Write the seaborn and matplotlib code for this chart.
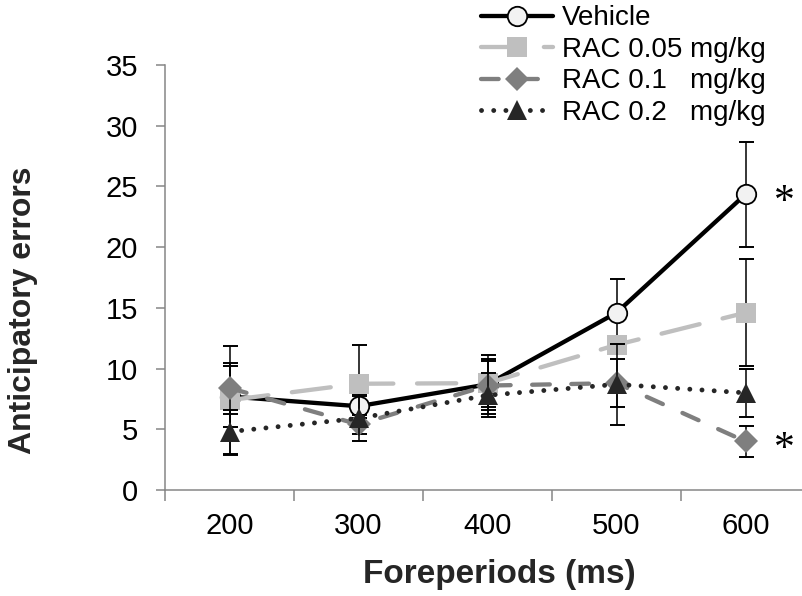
import numpy as np
import pandas as pd
import matplotlib
matplotlib.use("Agg")
import matplotlib.pyplot as plt
import seaborn as sns
from matplotlib.ticker import FixedLocator

# Foreperiod categories (ms) and group labels
foreperiods = ["200", "300", "400", "500", "600"]
group_names = ["Vehicle", "RAC 0.05 mg/kg", "RAC 0.1   mg/kg", "RAC 0.2   mg/kg"]

# Mean anticipatory errors and SEM for each group
vehicle_mean = [7.7, 6.9, 8.7, 14.6, 24.35]
vehicle_sem = [2.5, 1.0, 2.4, 2.75, 4.35]
rac005_mean = [7.4, 8.75, 8.8, 11.95, 14.6]
rac005_sem = [4.5, 3.2, 2.0, 0.5, 4.4]
rac01_mean = [8.4, 5.4, 8.6, 8.8, 4.0]
rac01_sem = [2.1, 0.8, 2.0, 1.95, 1.3]
rac02_mean = [4.8, 5.9, 7.8, 8.7, 8.0]
rac02_sem = [1.8, 1.85, 1.8, 3.35, 2.0]

# Groups flagged as significant at the longest foreperiod
flagged = [("Vehicle", vehicle_mean), ("RAC 0.1   mg/kg", rac01_mean)]

sns.set_theme(style="ticks")
plt.rcParams["font.family"] = ["Liberation Sans", "DejaVu Sans"]
plt.rcParams["text.color"] = "black"
plt.rcParams["xtick.color"] = "#868686"
plt.rcParams["ytick.color"] = "#868686"
plt.rcParams["xtick.labelcolor"] = "black"
plt.rcParams["ytick.labelcolor"] = "black"

fig = plt.figure(figsize=(8.02, 5.96), dpi=100)
ax = fig.add_axes([165 / 802, 106 / 596, 645 / 802, 425 / 596])

styles = {
    "Vehicle": dict(color="black", marker="o", linestyle="-", linewidth=3.1,
                    markersize=14, markerfacecolor="#f2f2f2",
                    markeredgecolor="black", markeredgewidth=1.3),
    "RAC 0.05 mg/kg": dict(color="#bfbfbf", marker="s", linestyle=(0, (9.1, 5.5)),
                           linewidth=3.1, markersize=14, markerfacecolor="#bfbfbf",
                           markeredgecolor="#bfbfbf", markeredgewidth=0),
    "RAC 0.1   mg/kg": dict(color="#7f7f7f", marker="D", linestyle=(0, (4.1, 5.0)),
                            linewidth=3.1, markersize=12.5, markerfacecolor="#7f7f7f",
                            markeredgecolor="#7f7f7f", markeredgewidth=0),
    "RAC 0.2   mg/kg": dict(color="#262626", marker="^", linestyle=(0, (0.01, 2.5)),
                            linewidth=3.5, markersize=14, markerfacecolor="#262626",
                            markeredgecolor="#262626", markeredgewidth=0),
}

groups = [
    (group_names[0], vehicle_mean, vehicle_sem),
    (group_names[1], rac005_mean, rac005_sem),
    (group_names[2], rac01_mean, rac01_sem),
    (group_names[3], rac02_mean, rac02_sem),
]

for i, (name, mean, sem) in enumerate(groups):
    df = pd.DataFrame({"Foreperiod": foreperiods, "Errors": mean, "SEM": sem})
    sns.lineplot(data=df, x="Foreperiod", y="Errors", ax=ax, label=name,
                 sort=False, dash_capstyle="round", solid_capstyle="round",
                 zorder=3 + i, **styles[name])
    ax.errorbar(df["Foreperiod"], df["Errors"], yerr=df["SEM"], fmt="none",
                ecolor="black", elinewidth=1.1, capsize=5.4, capthick=1.4,
                zorder=2.5 + i)

ax.set_xlim(-0.5, 4.5)
ax.set_ylim(0, 35)
ax.set_yticks(np.arange(0, 36, 5))
ax.xaxis.set_minor_locator(FixedLocator(np.arange(-0.5, 5.0, 1.0)))
ax.tick_params(axis="x", which="major", length=0, pad=16, labelsize=21)
ax.tick_params(axis="x", which="minor", length=8, width=1.1, direction="out")
ax.tick_params(axis="y", which="major", length=6.5, width=1.1, pad=13,
               labelsize=21, direction="out")

sns.despine(ax=ax)
for side in ("left", "bottom"):
    ax.spines[side].set_color("#868686")
    ax.spines[side].set_linewidth(1.1)

ax.set_xlabel("Foreperiods (ms)", fontsize=24, fontweight="bold")
ax.set_ylabel("Anticipatory errors", fontsize=23, fontweight="bold")
ax.xaxis.set_label_coords(0.519, -0.163)
ax.yaxis.set_label_coords(-0.197, 0.4235)

# significance markers beside the 600 ms points
last = len(foreperiods) - 1
for name, mean in flagged:
    ax.annotate("*", xy=(last, mean[last]), xytext=(28, -6),
                textcoords="offset points", ha="center", va="center",
                fontsize=30, family="Liberation Serif", annotation_clip=False)

handles, labels = ax.get_legend_handles_labels()
pairs = [(h, l) for h, l in zip(handles, labels) if l in group_names]
if ax.get_legend() is not None:
    ax.get_legend().remove()
fig.legend([p[0] for p in pairs], [p[1] for p in pairs], loc="upper left",
           bbox_to_anchor=(481 / 802, 0.991), frameon=False, fontsize=20,
           handlelength=2.6, handletextpad=0.3, labelspacing=0.2,
           borderpad=0, borderaxespad=0, numpoints=1)

fig.savefig("out.png", dpi=100)
